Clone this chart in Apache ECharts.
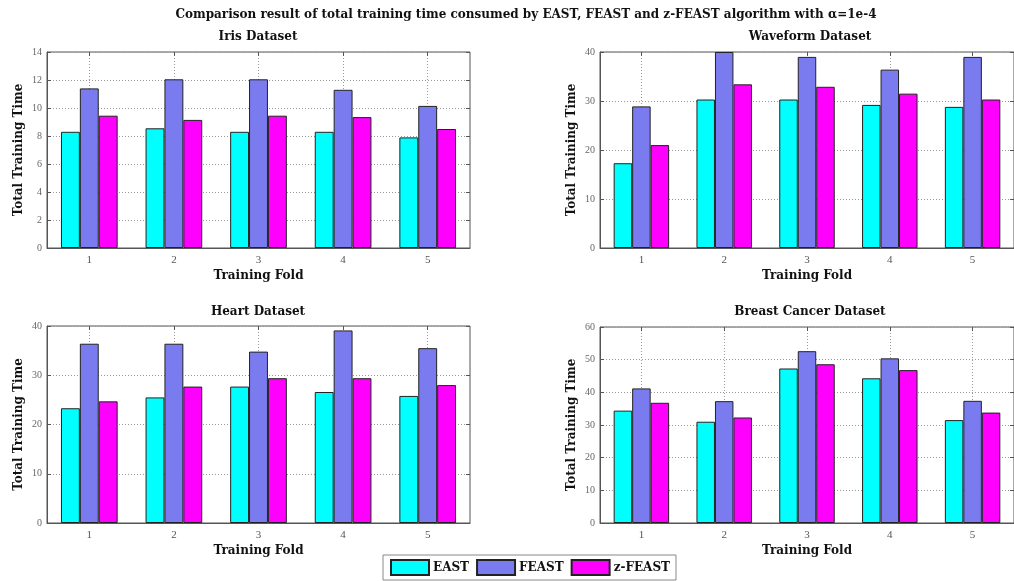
<!DOCTYPE html>
<html>
<head>
<meta charset="utf-8">
<script src="https://cdn.jsdelivr.net/npm/echarts@6/dist/echarts.min.js"></script>
<style>
  html, body { margin: 0; padding: 0; background: #fff; }
  #chart { width: 1014px; height: 581px; }
</style>
</head>
<body>
<div id="chart"></div>
<script>
// Training folds (x categories)
const folds = ['1', '2', '3', '4', '5'];
const seriesNames = ['EAST', 'FEAST', 'z-FEAST'];

// Total training time per fold
const irisEAST = [8.3, 8.55, 8.3, 8.3, 7.9];
const irisFEAST = [11.4, 12.05, 12.05, 11.3, 10.15];
const irisZFEAST = [9.45, 9.15, 9.45, 9.35, 8.5];

const waveEAST = [17.3, 30.3, 30.3, 29.2, 28.8];
const waveFEAST = [28.9, 40.0, 39.0, 36.4, 39.0];
const waveZFEAST = [21.0, 33.4, 32.9, 31.5, 30.3];

const heartEAST = [23.3, 25.5, 27.7, 26.6, 25.8];
const heartFEAST = [36.4, 36.4, 34.8, 39.1, 35.5];
const heartZFEAST = [24.7, 27.7, 29.4, 29.4, 28.0];

const breastEAST = [34.4, 31.0, 47.3, 44.3, 31.5];
const breastFEAST = [41.2, 37.3, 52.6, 50.4, 37.4];
const breastZFEAST = [36.8, 32.3, 48.6, 46.8, 33.8];

// Y axis ranges per panel
const yMax = [14, 40, 40, 60];
const yStep = [2, 10, 10, 10];

const panelTitles = ['Iris Dataset', 'Waveform Dataset', 'Heart Dataset', 'Breast Cancer Dataset'];
const panelData = [
  [irisEAST, irisFEAST, irisZFEAST],
  [waveEAST, waveFEAST, waveZFEAST],
  [heartEAST, heartFEAST, heartZFEAST],
  [breastEAST, breastFEAST, breastZFEAST]
];

const colors = ['#00FFFF', '#7B7BF0', '#FF00FF'];
const serif = '"DejaVu Serif", "Liberation Serif", serif';
const tickFont = '"Liberation Serif", serif';
const frameColor = '#555';
const gridLine = { show: true, lineStyle: { color: '#999', type: [1, 2], width: 1 } };

const grids = [
  { left: 47, top: 52, width: 423, height: 196 },
  { left: 600, top: 52, width: 421, height: 196 },
  { left: 47, top: 326, width: 423, height: 197 },
  { left: 600, top: 327, width: 421, height: 196 }
].map(g => Object.assign({ show: true, borderColor: frameColor, borderWidth: 1, backgroundColor: '#fff' }, g));

// 11 slots spanning the band so odd slots sit on category centres
const slots = Array.from({ length: 11 }, (_, i) => String(i));
const oddOnly = (idx) => idx % 2 === 1;

const xAxes = [];
const yAxes = [];
const series = [];

grids.forEach((g, i) => {
  xAxes.push({
    type: 'category', gridIndex: i, data: folds, position: 'bottom',
    axisLine: { show: true, lineStyle: { color: frameColor } },
    axisTick: { show: false },
    axisLabel: { color: '#555', fontFamily: tickFont, fontSize: 11, margin: 7 },
    splitLine: { show: false },
    name: 'Training Fold', nameLocation: 'middle', nameGap: 22,
    nameTextStyle: { fontFamily: serif, fontWeight: 'bold', fontSize: 12, color: '#111' }
  });
  xAxes.push({
    type: 'category', gridIndex: i, data: slots, boundaryGap: false, position: 'bottom',
    axisLine: { show: false },
    axisLabel: { show: false },
    axisTick: { show: true, inside: true, length: 4, interval: oddOnly, lineStyle: { color: frameColor } },
    splitLine: Object.assign({ interval: oddOnly }, gridLine)
  });
  xAxes.push({
    type: 'category', gridIndex: i, data: slots, boundaryGap: false, position: 'top',
    axisLine: { show: false },
    axisLabel: { show: false },
    axisTick: { show: true, inside: true, length: 4, interval: oddOnly, lineStyle: { color: frameColor } },
    splitLine: { show: false }
  });
  yAxes.push({
    type: 'value', gridIndex: i, min: 0, max: yMax[i], interval: yStep[i], position: 'left',
    axisLine: { show: true, lineStyle: { color: frameColor } },
    axisTick: { show: true, inside: true, length: 4, lineStyle: { color: frameColor } },
    axisLabel: { color: '#666', fontFamily: tickFont, fontSize: 10, margin: 5 },
    splitLine: gridLine,
    name: 'Total Training Time', nameLocation: 'middle', nameGap: 22,
    nameTextStyle: { fontFamily: serif, fontWeight: 'bold', fontSize: 12, color: '#111' }
  });
  yAxes.push({
    type: 'value', gridIndex: i, min: 0, max: yMax[i], interval: yStep[i], position: 'right',
    axisLine: { show: false },
    axisTick: { show: true, inside: true, length: 4, lineStyle: { color: frameColor } },
    axisLabel: { show: false },
    splitLine: { show: false }
  });
  panelData[i].forEach((vals, s) => {
    series.push({
      type: 'bar', name: seriesNames[s],
      xAxisIndex: 3 * i, yAxisIndex: 2 * i,
      data: vals,
      barGap: '0%', barCategoryGap: '33%',
      itemStyle: { color: colors[s], borderColor: '#222', borderWidth: 1 },
      emphasis: { disabled: true },
      animation: false
    });
  });
});

const centres = [258, 810, 258, 810];
const titleY = [37, 37, 312, 312];
const graphics = [{
  type: 'text', x: 526, y: 15,
  style: {
    text: 'Comparison result of total training time consumed by EAST, FEAST and z-FEAST algorithm with \u03b1=1e-4',
    font: 'bold 12px ' + serif, fill: '#111', textAlign: 'center', textVerticalAlign: 'middle'
  }
}];
panelTitles.forEach((t, i) => {
  graphics.push({
    type: 'text', x: centres[i], y: titleY[i],
    style: { text: t, font: 'bold 12px ' + serif, fill: '#111', textAlign: 'center', textVerticalAlign: 'middle' }
  });
});

const chart = echarts.init(document.getElementById('chart'), null, { renderer: 'canvas' });
chart.setOption({
  backgroundColor: '#fff',
  animation: false,
  grid: grids,
  xAxis: xAxes,
  yAxis: yAxes,
  series: series,
  graphic: graphics,
  legend: {
    data: seriesNames,
    left: 383, top: 555,
    itemWidth: 38, itemHeight: 15, itemGap: 7,
    padding: [4, 6, 4, 7],
    borderColor: '#888', borderWidth: 1,
    icon: 'rect',
    textStyle: { fontFamily: serif, fontWeight: 'bold', fontSize: 12, color: '#111', padding: [0, 0, 0, -1] },
    selectedMode: false
  }
});
</script>
</body>
</html>
